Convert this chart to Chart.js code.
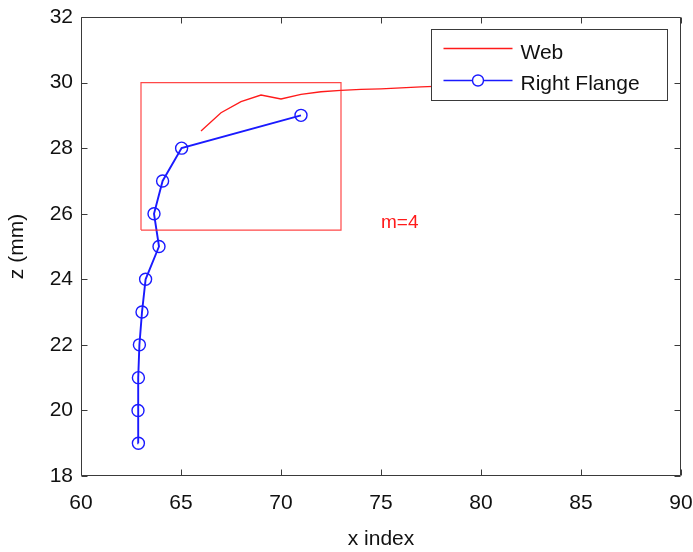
<!DOCTYPE html>
<html>
<head>
<meta charset="utf-8">
<script src="https://cdn.jsdelivr.net/npm/chart.js@4/dist/chart.umd.min.js"></script>
<style>
  html, body { margin: 0; padding: 0; background: #fff; }
  #wrap { width: 693px; height: 552px; }
</style>
</head>
<body>
<div id="wrap"><canvas id="c" width="693" height="552"></canvas></div>
<script>
// Web profile (x index vs z in mm)
const webX = [66, 67, 68, 69, 70, 71, 72, 73, 74, 75, 76, 77, 78, 79, 80, 81, 82];
const webZ = [28.52, 29.08, 29.42, 29.62, 29.50, 29.64, 29.72, 29.76, 29.79, 29.81, 29.84, 29.87, 29.89, 29.91, 29.92, 29.93, 29.94];

// Right flange profile, one sample per mm of height
const flangeX = [62.87, 62.85, 62.87, 62.92, 63.05, 63.23, 63.9, 63.65, 64.08, 65.03, 71.0];
const flangeZ = [19, 20, 21, 22, 23, 24, 25, 26, 27, 28, 29];

// Region of interest outline
const boxX = [63, 73, 73, 63, 63];
const boxZ = [25.5, 25.5, 30, 30, 25.5];

// Annotation
const noteText = 'm=4';
const noteX = 75;
const noteZ = 25.72;

// Axis ranges and tick steps
const xRange = [60, 90];
const zRange = [18, 32];
const xStep = 5;
const zStep = 2;

const FONT = '"Liberation Sans", Arial, Helvetica, sans-serif';
const RED = '#ff1a1a';
const BLUE = '#1a1aff';
const FRAME = '#3a3a3a';

const pts = (xs, ys) => xs.map((v, i) => ({ x: v, y: ys[i] }));

// Box frame with inward tick marks on all four sides
const framePlugin = {
  id: 'frame',
  afterDatasetsDraw(chart) {
    const { ctx, chartArea: a, scales: { x, y } } = chart;
    const L = Math.round(a.left) + 0.5, R = Math.round(a.right) - 0.5;
    const T = Math.round(a.top) + 0.5, B = Math.round(a.bottom) - 0.5;
    const len = 6;
    ctx.save();
    ctx.strokeStyle = FRAME;
    ctx.lineWidth = 1;
    ctx.beginPath();
    ctx.rect(L, T, R - L, B - T);
    x.ticks.forEach(t => {
      const p = Math.round(x.getPixelForValue(t.value)) + 0.5;
      ctx.moveTo(p, B); ctx.lineTo(p, B - len);
      ctx.moveTo(p, T); ctx.lineTo(p, T + len);
    });
    y.ticks.forEach(t => {
      const p = Math.round(y.getPixelForValue(t.value)) + 0.5;
      ctx.moveTo(L, p); ctx.lineTo(L + len, p);
      ctx.moveTo(R, p); ctx.lineTo(R - len, p);
    });
    ctx.stroke();

    // annotation text
    ctx.fillStyle = RED;
    ctx.font = '19px ' + FONT;
    ctx.textAlign = 'left';
    ctx.textBaseline = 'middle';
    ctx.fillText(noteText, x.getPixelForValue(noteX), y.getPixelForValue(noteZ));
    ctx.restore();
  },
  afterDraw(chart) {
    // legend box in the upper right corner of the plot
    const { ctx, chartArea: a } = chart;
    const w = 236, h = 71;
    const bx = Math.round(a.right - 14 - w) + 0.5;
    const by = Math.round(a.top + 12) + 0.5;
    ctx.save();
    ctx.fillStyle = '#fff';
    ctx.fillRect(bx, by, w, h);
    ctx.strokeStyle = FRAME;
    ctx.lineWidth = 1;
    ctx.strokeRect(bx, by, w, h);

    const ds = chart.data.datasets;
    const x0 = bx + 12, x1 = bx + 81, tx = bx + 89;
    const rows = [
      { d: ds[1], cy: by + 19, base: by + 29 },
      { d: ds[2], cy: by + 51, base: by + 60.5 }
    ];
    ctx.font = '21px ' + FONT;
    ctx.textAlign = 'left';
    ctx.textBaseline = 'alphabetic';
    rows.forEach(r => {
      ctx.strokeStyle = r.d.borderColor;
      ctx.lineWidth = 1.3;
      ctx.beginPath();
      ctx.moveTo(x0, r.cy); ctx.lineTo(x1, r.cy);
      ctx.stroke();
      if (r.d.pointRadius > 0) {
        ctx.fillStyle = '#fff';
        ctx.beginPath();
        ctx.arc((x0 + x1) / 2, r.cy, r.d.pointRadius - 0.5, 0, Math.PI * 2);
        ctx.fill();
        ctx.lineWidth = r.d.pointBorderWidth;
        ctx.stroke();
      }
      ctx.fillStyle = '#111';
      ctx.fillText(r.d.label, tx, r.base);
    });
    ctx.restore();
  }
};

new Chart(document.getElementById('c'), {
  type: 'scatter',
  data: {
    datasets: [
      {
        label: 'box',
        data: pts(boxX, boxZ),
        showLine: true,
        borderColor: 'rgba(255,40,40,0.85)',
        borderWidth: 1.2,
        pointRadius: 0,
        tension: 0
      },
      {
        label: 'Web',
        data: pts(webX, webZ),
        showLine: true,
        borderColor: RED,
        borderWidth: 1.3,
        pointRadius: 0,
        tension: 0
      },
      {
        label: 'Right Flange',
        data: pts(flangeX, flangeZ),
        showLine: true,
        borderColor: BLUE,
        borderWidth: 1.9,
        pointStyle: 'circle',
        pointRadius: 6,
        pointBorderWidth: 1.4,
        pointBorderColor: BLUE,
        pointBackgroundColor: 'rgba(0,0,0,0)',
        tension: 0
      }
    ]
  },
  options: {
    responsive: false,
    animation: false,
    events: [],
    layout: { padding: { top: 17, right: 12, left: 0, bottom: 0 } },
    plugins: { legend: { display: false }, tooltip: { enabled: false } },
    scales: {
      x: {
        type: 'linear',
        min: xRange[0], max: xRange[1],
        ticks: { stepSize: xStep, padding: 15, color: '#111', font: { family: FONT, size: 21 }, maxRotation: 0 },
        grid: { display: false, drawTicks: false },
        border: { display: false },
        title: { display: true, text: 'x index', color: '#111', font: { family: FONT, size: 21 }, padding: { top: 0, bottom: 0 } },
        afterFit: s => { s.height = 76; s.paddingLeft = 0; s.paddingRight = 0; }
      },
      y: {
        type: 'linear',
        min: zRange[0], max: zRange[1],
        ticks: { stepSize: zStep, padding: 8, color: '#111', font: { family: FONT, size: 21 } },
        grid: { display: false, drawTicks: false },
        border: { display: false },
        title: { display: true, text: 'z (mm)', color: '#111', font: { family: FONT, size: 21 }, padding: { top: 5, bottom: 0 } },
        afterFit: s => { s.width = 81; s.paddingTop = 0; s.paddingBottom = 0; }
      }
    }
  },
  plugins: [framePlugin]
});
</script>
</body>
</html>
